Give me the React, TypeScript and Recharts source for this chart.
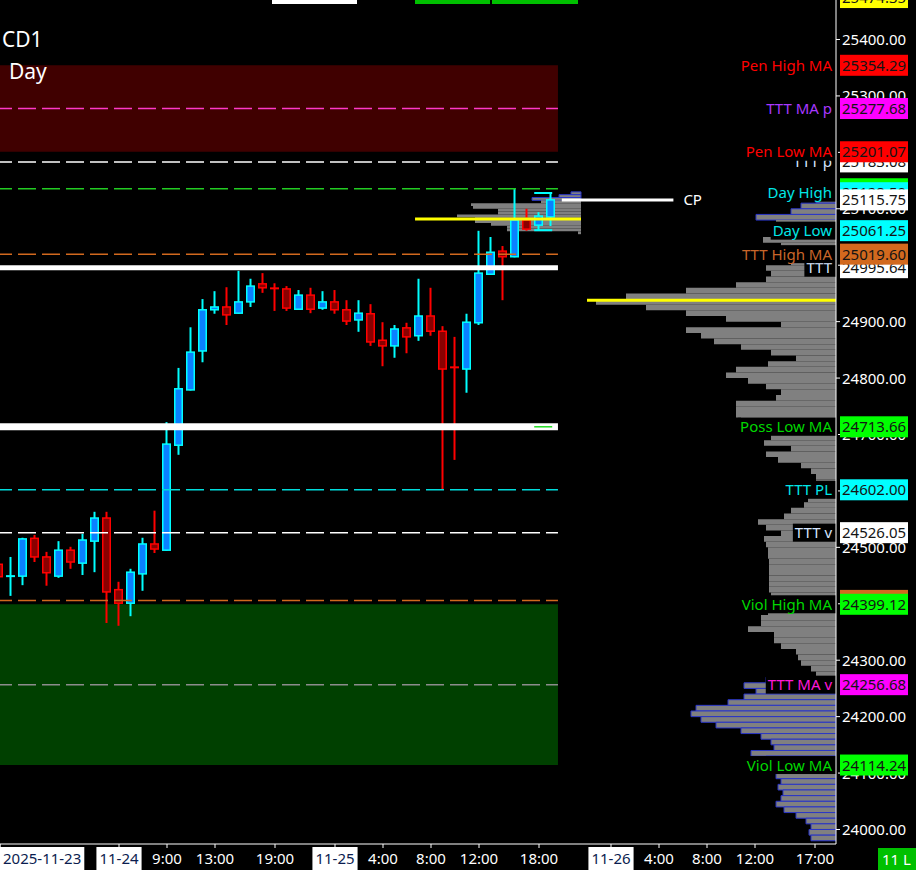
import React from "react";
import { ComposedChart, Bar, XAxis, YAxis, ReferenceLine, ReferenceArea } from "recharts";

const FONT = '"Noto Sans", "Open Sans", sans-serif';

// hourly bars, first one is the partial bar on the left edge
const opens = [24470, 24446, 24449, 24516, 24483, 24449, 24495, 24472, 24511, 24552, 24425, 24401, 24453, 24506, 24495, 24681, 24779, 24848, 24921, 24926, 24915, 24935, 24967, 24959, 24958, 24922, 24947, 24924, 24935, 24921, 24903, 24914, 24867, 24857, 24889, 24875, 24910, 24883, 24819, 24816, 24898, 24984, 25025, 25015, 25080, 25071, 25085.5]
const highs = [24474, 24483, 24517, 24522, 24492, 24511, 24501, 24524, 24563, 24563, 24439, 24462, 24517, 24565, 24722, 24818, 24890, 24940, 24954, 24961, 24990, 24976, 24986, 24968, 24963, 24956, 24960, 24954, 24956, 24938, 24938, 24931, 24899, 24894, 24898, 24976, 24960, 24892, 24873, 24914, 25061, 25050, 25034, 25135, 25100, 25094, 25128]
const lows = [24442, 24414, 24433, 24474, 24432, 24446, 24462, 24451, 24456, 24366, 24361, 24378, 24423, 24490, 24494, 24664, 24778, 24828, 24914, 24894, 24914, 24926, 24951, 24919, 24919, 24921, 24915, 24921, 24914, 24894, 24882, 24857, 24821, 24836, 24844, 24866, 24875, 24602, 24655, 24774, 24894, 24983, 24938, 25014, 25061, 25062, 25069.5]
const closes = [24448, 24449, 24515, 24483, 24455, 24495, 24474, 24513, 24552, 24421, 24401, 24456, 24506, 24497, 24683, 24781, 24846, 24921, 24926, 24912, 24935, 24963, 24960, 24958, 24924, 24947, 24922, 24935, 24921, 24901, 24915, 24864, 24857, 24887, 24873, 24910, 24883, 24816, 24818, 24899, 24986, 25023, 25015, 25080, 25064, 25087, 25115.75]

const xTickIdx = [-0.9, 9, 13, 17, 22, 27, 31, 35, 39, 44, 50, 54, 58, 62, 67]
const xTickText = ["2025-11-23", "11-24", "9:00", "13:00", "19:00", "11-25", "4:00", "8:00", "12:00", "18:00", "11-26", "4:00", "8:00", "12:00", "17:00"]

const yTicks = [24000, 24100, 24200, 24300, 24400, 24500, 24600, 24700, 24800, 24900, 25000, 25100, 25200, 25300, 25400]

// volume profile, 10 pt buckets (lower bound of bucket)
const vpPrices = [25120, 25110, 25100, 25090, 25080, 25070, 25060, 25050, 25040, 25030, 25020, 25010, 25000, 24990, 24980, 24970, 24960, 24950, 24940, 24930, 24920, 24910, 24900, 24890, 24880, 24870, 24860, 24850, 24840, 24830, 24820, 24810, 24800, 24790, 24780, 24770, 24760, 24750, 24740, 24730, 24720, 24710, 24700, 24690, 24680, 24670, 24660, 24650, 24640, 24630, 24620, 24610, 24600, 24590, 24580, 24570, 24560, 24550, 24540, 24530, 24520, 24510, 24500, 24490, 24480, 24470, 24460, 24450, 24440, 24430, 24420, 24410, 24400, 24390, 24380, 24370, 24360, 24350, 24340, 24330, 24320, 24310, 24300, 24290, 24280, 24270, 24260, 24250, 24240, 24230, 24220, 24210, 24200, 24190, 24180, 24170, 24160, 24150, 24140, 24130, 24120, 24110, 24100, 24090, 24080, 24070, 24060, 24050, 24040, 24030, 24020, 24010, 24000, 23990, 23980]
const vpVolumes = [15, 20, 35, 45, 80, 60, 60, 62, 73, 55, 50, 50, 45, 70, 65, 70, 100, 150, 210, 240, 190, 150, 110, 55, 150, 135, 122, 95, 65, 40, 68, 100, 110, 88, 70, 55, 60, 100, 100, 100, 95, 90, 80, 65, 72, 45, 70, 58, 35, 25, 20, 20, 25, 30, 28, 32, 45, 52, 78, 70, 55, 72, 70, 68, 68, 67, 67, 67, 67, 67, 67, 65, 65, 70, 68, 75, 75, 88, 62, 62, 55, 40, 38, 35, 25, 20, 70, 92, 80, 92, 108, 140, 145, 135, 120, 95, 75, 65, 62, 85, 70, 65, 60, 60, 55, 58, 53, 55, 60, 52, 40, 30, 25, 27, 25]
const VP_STEP = 10

// session profile next to the last bars, 5 pt buckets
const spPrices = [25125, 25120, 25115, 25110, 25105, 25100, 25095, 25090, 25085, 25080, 25075, 25070, 25065, 25060, 25055]
const spVolumes = [10, 22, 49, 40, 110, 108, 83, 83, 124, 106, 106, 90, 74, 74, 3]
const SP_STEP = 5
const SP_ANCHOR = 47.5

// right side level tags (drawn in this order)
const levelNames = ["", "Pen High MA", "TTT MA p", "TTT p", "Pen Low MA", "", "Day High", "", "Day Low", "TTT", "TTT High MA", "Poss Low MA", "TTT PL", "TTT v", "", "Viol High MA", "TTT MA v", "Viol Low MA"]
const levelPrices = [25474.35, 25354.29, 25277.68, 25183.08, 25201.07, 25135.5, 25128.5, 25115.75, 25061.25, 24995.64, 25019.6, 24713.66, 24602.0, 24526.05, 24406.0, 24399.12, 24256.68, 24114.24]
const levelTone = ["yellow", "red", "purple", "white", "red", "green", "cyan", "white", "cyan", "white", "orange", "green", "cyan", "white", "orange", "green", "pink", "green"]

const tones: Record<string, { text: string; box: string }> = {
  yellow: { text: "#ffff00", box: "#ffff00" },
  red: { text: "#ff0000", box: "#ff0000" },
  purple: { text: "#a838ff", box: "#ff00ff" },
  white: { text: "#d6e6ff", box: "#ffffff" },
  green: { text: "#00d800", box: "#00ff00" },
  cyan: { text: "#00e6e6", box: "#00ffff" },
  orange: { text: "#c8662a", box: "#d2691e" },
  pink: { text: "#ff18d8", box: "#ff00ff" },
}

// lines in the price pane
const dashPrices = [25277.68, 25183.08, 25135.5, 25019.6, 24602.0, 24526.05, 24406.0, 24256.68]
const dashColors = ["#ff38c8", "#ffffff", "#22cc22", "#d2691e", "#00dcdc", "#ffffff", "#d2691e", "#8c8c8c"]
const solidPrices = [24995.64, 24713.66]
const solidWidths = [5, 7]

const X_MIN = -11 / 12
const X_MAX = 825 / 12
const PX_PER_BAR = 12
const LINE_END = 45.58
const Y_MIN = 23974.3
const Y_MAX = 25470

const candles = opens.map((o, k) => ({
  i: k - 1,
  open: o,
  high: highs[k],
  low: lows[k],
  close: closes[k],
  range: [lows[k], highs[k]],
}))

let measureCtx: CanvasRenderingContext2D | null = null
function textWidth(s: string, size = 15) {
  if (typeof document !== "undefined") {
    measureCtx = measureCtx || document.createElement("canvas").getContext("2d")
    if (measureCtx) {
      measureCtx.font = `${size}px "Noto Sans"`
      return measureCtx.measureText(s).width
    }
  }
  return s.length * size * 0.56
}

function Candle(props: any) {
  const { x, y, width, height, payload } = props
  if (!payload || height == null || isNaN(y)) return null
  const { open, close, high, low } = payload
  const up = close > open
  const k = height / (high - low)
  const py = (v: number) => y + (high - v) * k
  const cx = x + width / 2
  const top = py(Math.max(open, close))
  const bodyH = py(Math.min(open, close)) - top
  const edge = up ? "#00ffff" : "#ff0000"
  const fill = up ? "#0a80ff" : "#8a0000"
  return (
    <g>
      <line x1={cx} x2={cx} y1={y} y2={y + height} stroke={edge} strokeWidth={2} />
      {bodyH < 2 ? (
        <rect x={x} y={top - 1} width={width} height={2} fill={edge} />
      ) : (
        <rect x={x + 0.75} y={top} width={width - 1.5} height={bodyH} fill={fill} stroke={edge} strokeWidth={1.5} />
      )}
    </g>
  )
}

function TimeTick(props: any) {
  const { x, y, payload } = props
  const k = xTickIdx.indexOf(payload.value)
  const text = xTickText[k] ?? ""
  const boxed = text.includes("-")
  const w = textWidth(text) + 6
  const left = Math.max(0, x - w / 2)
  return (
    <g>
      {boxed && <rect x={left} y={y - 3} width={w} height={23} fill="#ffffff" />}
      <text x={left + w / 2} y={y + 14} textAnchor="middle" fontSize={15} fontFamily={FONT} fill={boxed ? "#0b1d4f" : "#ffffff"}>
        {text}
      </text>
    </g>
  )
}

// price scale labels, drawn as labels so the level boxes can sit on top of them
function PriceTick(props: any) {
  const { viewBox, value } = props
  if (!viewBox) return null
  const right = viewBox.x + viewBox.width
  return (
    <g>
      <line x1={right} x2={right + 4} y1={viewBox.y} y2={viewBox.y} stroke="#ffffff" />
      <text x={right + 6} y={viewBox.y + 5.5} fontSize={15} fontFamily={FONT} fill="#ffffff">
        {value.toFixed(2)}
      </text>
    </g>
  )
}

function LevelTag(props: any) {
  const { viewBox, name, price, tone } = props
  if (!viewBox) return null
  const y = viewBox.y
  const right = viewBox.x + viewBox.width
  const t = tones[tone]
  const w = name ? textWidth(name) : 0
  return (
    <g>
      {name && <rect x={right - w - 6} y={y - 9} width={w + 8} height={18} fill="#000000" />}
      {name && (
        <text x={right - 4} y={y + 5.5} textAnchor="end" fontSize={15} fontFamily={FONT} fill={t.text}>
          {name}
        </text>
      )}
      <rect x={right + 4} y={y - 10.5} width={68} height={21} fill={t.box} />
      <text x={right + 6} y={y + 5.5} fontSize={15} fontFamily={FONT} fill="#141414">
        {price.toFixed(2)}
      </text>
    </g>
  )
}

function CpTag(props: any) {
  const { viewBox } = props
  if (!viewBox) return null
  return (
    <text x={viewBox.x + viewBox.width + 10} y={viewBox.y + 5} fontSize={15} fontFamily={FONT} fill="#ffffff">
      CP
    </text>
  )
}

export default function App() {
  return (
    <div style={{ position: "absolute", left: 0, top: 0, width: 916, height: 870, background: "#000", overflow: "hidden" }}>
      <ComposedChart width={916} height={870} data={candles} margin={{ top: 0, right: 0, bottom: 0, left: 0 }}>
        <XAxis
          dataKey="i"
          type="number"
          domain={[X_MIN, X_MAX]}
          allowDataOverflow
          ticks={xTickIdx}
          interval={0}
          tick={<TimeTick />}
          stroke="#ffffff"
          tickSize={4}
          height={26}
        />
        <YAxis
          orientation="right"
          type="number"
          domain={[Y_MIN, Y_MAX]}
          allowDataOverflow
          ticks={yTicks}
          width={80}
          stroke="#ffffff"
          tick={false}
          tickLine={false}
        />

        {vpPrices.map((p, k) => (
          <ReferenceArea
            key={"vp" + p}
            x1={X_MAX - vpVolumes[k] / PX_PER_BAR}
            x2={X_MAX}
            y1={p}
            y2={p + VP_STEP}
            fill="#808080"
            fillOpacity={1}
            stroke={p < 24270 || p >= 25080 ? "#2a36c8" : "none"}
            strokeWidth={1}
            ifOverflow="hidden"
          />
        ))}
        {spPrices.map((p, k) => (
          <ReferenceArea
            key={"sp" + p}
            x1={SP_ANCHOR - spVolumes[k] / PX_PER_BAR}
            x2={SP_ANCHOR}
            y1={p}
            y2={p + SP_STEP}
            fill="#808080"
            fillOpacity={1}
            stroke={p >= 25115 ? "#2a36c8" : "none"}
            strokeWidth={1}
            ifOverflow="hidden"
          />
        ))}

        <Bar dataKey="range" barSize={9} isAnimationActive={false} shape={(p: any) => <Candle {...p} />} />

        <ReferenceArea x1={X_MIN} x2={LINE_END} y1={25201.07} y2={25354.29} fill="#800000" fillOpacity={0.5} ifOverflow="hidden" />
        <ReferenceArea x1={X_MIN} x2={LINE_END} y1={24114.24} y2={24399.12} fill="#008000" fillOpacity={0.5} ifOverflow="hidden" />

        {dashPrices.map((p, k) => (
          <ReferenceLine
            key={"d" + p}
            segment={[{ x: X_MIN, y: p }, { x: LINE_END, y: p }]}
            stroke={dashColors[k]}
            strokeWidth={1.5}
            strokeDasharray="18 6"
            strokeDashoffset={6}
            ifOverflow="hidden"
          />
        ))}
        {solidPrices.map((p, k) => (
          <ReferenceLine key={"s" + p} segment={[{ x: X_MIN, y: p }, { x: LINE_END, y: p }]} stroke="#ffffff" strokeWidth={solidWidths[k]} ifOverflow="hidden" />
        ))}
        <ReferenceLine segment={[{ x: 43.6, y: 24713.66 }, { x: 45.1, y: 24713.66 }]} stroke="#22dd22" strokeWidth={1.5} ifOverflow="hidden" />
        <ReferenceLine segment={[{ x: 43.6, y: 25128 }, { x: 45.1, y: 25128 }]} stroke="#00ffff" strokeWidth={2} ifOverflow="hidden" />
        <ReferenceLine segment={[{ x: 43.6, y: 25062 }, { x: 45.1, y: 25062 }]} stroke="#00ffff" strokeWidth={2} ifOverflow="hidden" />
        <ReferenceLine segment={[{ x: 33.67, y: 25082 }, { x: 47.5, y: 25082 }]} stroke="#ffff00" strokeWidth={3} ifOverflow="hidden" />
        <ReferenceLine segment={[{ x: 48, y: 24938 }, { x: X_MAX, y: 24938 }]} stroke="#ffff00" strokeWidth={3} ifOverflow="hidden" />
        <ReferenceLine
          segment={[{ x: 45.9, y: 25115.75 }, { x: 55.2, y: 25115.75 }]}
          stroke="#ffffff"
          strokeWidth={3}
          ifOverflow="hidden"
          label={<CpTag />}
        />

        {yTicks.map((t) => (
          <ReferenceLine key={"yt" + t} y={t} stroke="none" ifOverflow="visible" label={<PriceTick value={t} />} />
        ))}
        {levelPrices.map((p, k) => (
          <ReferenceLine
            key={"lv" + k}
            y={p}
            stroke="none"
            ifOverflow="visible"
            label={<LevelTag name={levelNames[k]} price={p} tone={levelTone[k]} />}
          />
        ))}
      </ComposedChart>

      <svg width={916} height={870} style={{ position: "absolute", left: 0, top: 0, pointerEvents: "none" }}>
        <rect x={272} y={0} width={85} height={4} fill="#ffffff" />
        <rect x={415} y={0} width={75} height={4} fill="#00c000" />
        <rect x={492} y={0} width={86} height={4} fill="#00c000" />
        <text x={2} y={47} fontSize={21} fontFamily={FONT} fill="#ffffff">CD1</text>
        <text x={9} y={79} fontSize={21} fontFamily={FONT} fill="#ffffff">Day</text>
        <rect x={878} y={848} width={38} height={22} fill="#00c000" />
        <text x={882} y={865} fontSize={15} fontFamily={FONT} fill="#ffffff">11 L</text>
      </svg>
    </div>
  )
}
